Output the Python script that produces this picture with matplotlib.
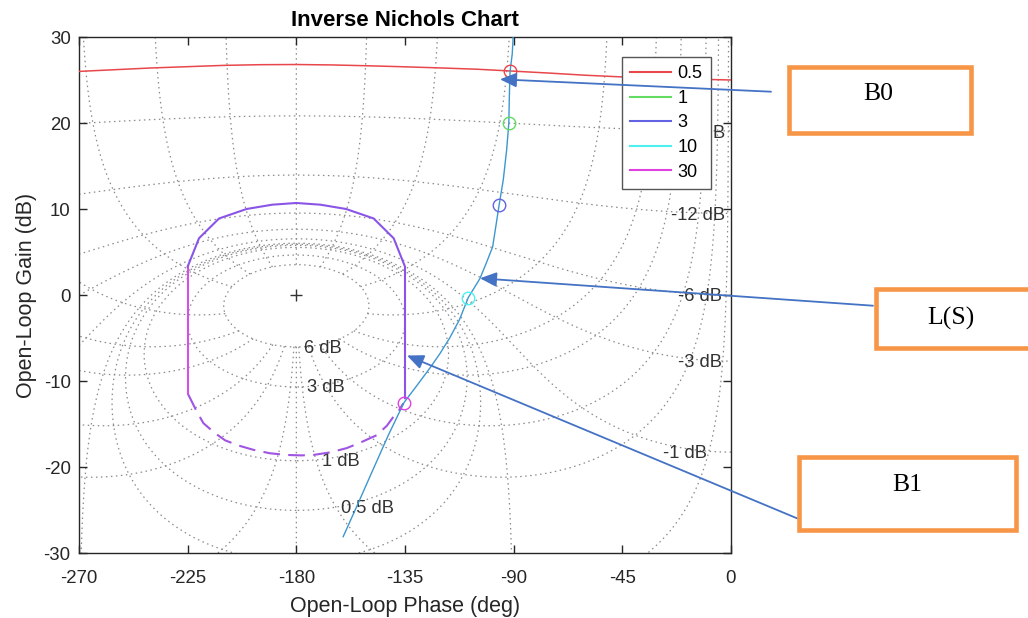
import numpy as np
import matplotlib
matplotlib.use("Agg")
import matplotlib.pyplot as plt
from matplotlib.lines import Line2D
from matplotlib.patches import Rectangle, FancyArrowPatch

plt.rcParams['font.family'] = ['Liberation Sans', 'DejaVu Sans']
plt.rcParams['axes.unicode_minus'] = False

W, H = 1028, 618

# Nichols grid levels
m_levels_db = [6, 3, 1, 0.5, 0.25, 0, -1, -3, -6, -12, -20, -40]
phase_levels = [-1, -5, -10, -20, -30, -50, -90, -120, -150, -180,
                -210, -240, -270, -310, -330, -340, -350, -355, -359, 0]

# bound labels (rad/s) and colours
bound_freqs = ['0.5', '1', '3', '10', '30']
bound_colors = ['#e8474b', '#62dc62', '#6262e2', '#4ff0f0', '#e040e0']

# B0 : bound at 0.5 rad/s
b0_phase = [-270, -255, -240, -225, -210, -195, -180, -165, -150, -137, -120,
            -105, -91.5, -75, -60, -44.5, -30, -15, 0]
b0_gain = [26.0, 26.2, 26.4, 26.55, 26.7, 26.78, 26.8, 26.75, 26.65, 26.55, 26.4,
           26.25, 26.05, 25.8, 25.55, 25.35, 25.2, 25.1, 25.0]

# B1 : solid upper part of the bound
b1_left_phase = [-225, -225]
b1_left_gain = [-11.5, 3.3]
b1_phase = [-225, -220.3, -212, -200.6, -190, -180, -170, -159.4, -148, -139.7,
            -135, -135]
b1_gain = [3.3, 6.6, 8.9, 10.0, 10.5, 10.7, 10.5, 10.0, 8.9, 6.6, 3.3, -12.0]

# B1 : dashed lower part
b1_dash_phase = [-224.7, -221.5, -218.5, -214, -209.5, -204, -197.8, -191, -184,
                 -178, -173, -166, -159.1, -153, -146.7, -142.5, -139.9, -137.5,
                 -135.7]
b1_dash_gain = [-11.6, -13.4, -14.9, -16.0, -16.9, -17.5, -18.0, -18.4, -18.6,
                -18.65, -18.6, -18.3, -17.8, -17.1, -16.3, -15.2, -14.2, -13.4,
                -12.6]

# open-loop L(s)
ls_phase = [-90.2, -90.6, -91.5, -91.8, -92.0, -92.9, -94.3, -96.0, -98.7,
            -101.5, -104.0, -108.8, -112.5, -116.5, -120.5, -124.7, -130.0,
            -135.4, -141.9, -149.5, -155.0, -160.6]
ls_gain = [30.0, 28.0, 26.0, 23.0, 20.0, 16.9, 13.4, 10.5, 5.6,
           3.6, 1.9, -0.3, -2.9, -5.0, -6.8, -8.5, -10.5,
           -12.5, -16.3, -21.1, -24.6, -28.1]

# L(jw) at the bound frequencies
mk_phase = [-91.5, -92.0, -96.0, -108.8, -135.4]
mk_gain = [26.0, 20.0, 10.5, -0.3, -12.5]


def nichols_xy(L):
    ph = np.mod(np.degrees(np.angle(L)), 360) - 360
    g = 20 * np.log10(np.abs(L))
    return ph, g


def plot_grid_curve(ax, ph, g):
    ok = np.isfinite(g)
    ph, g = ph[ok], g[ok]
    brk = np.where(np.abs(np.diff(ph)) > 90)[0] + 1
    for p, q in zip(np.split(ph, brk), np.split(g, brk)):
        ax.plot(p, q, color='#8a8a8a', lw=0.9, ls=(0, (1.2, 2.8)), zorder=1)


fig = plt.figure(figsize=(W / 100, H / 100), dpi=100, facecolor='white')
ax = fig.add_axes([79 / W, 65 / H, 652 / W, 516 / H])

# constant |1/(1+L)| contours
theta = np.linspace(1e-5, 2 * np.pi - 1e-5, 6000)
for mdb in m_levels_db:
    R = 1.0 / 10 ** (mdb / 20)
    L = -1 + R * np.exp(1j * theta)
    plot_grid_curve(ax, *nichols_xy(L))

# constant phase contours, started on the 6 dB circle
rho = np.geomspace(0.5, 1e3, 20000)
for a in phase_levels:
    L = -1 + rho * np.exp(1j * np.radians(a))
    plot_grid_curve(ax, *nichols_xy(L))

ax.plot(-180, 0, '+', color='#333333', ms=9, mew=1.0, zorder=2)

# grid labels
grid_text = dict(fontsize=13.2, color='#333333', va='center', zorder=3)
for lab, x, y in [('6 dB', -177, -6.2), ('3 dB', -175.6, -10.8),
                  ('1 dB', -169.5, -19.4), ('0.5 dB', -161.3, -24.8)]:
    ax.text(x, y, lab, ha='left', **grid_text)
for lab, x, y in [('-1 dB', -10.0, -18.4), ('-3 dB', -3.9, -7.9),
                  ('-6 dB', -3.8, -0.2), ('-12 dB', -2.5, 9.3),
                  ('-20 dB', -2.5, 18.8)]:
    ax.text(x, y, lab, ha='right', **grid_text)

# bounds
ax.plot(b0_phase, b0_gain, color=bound_colors[0], lw=1.1, zorder=4)
ax.plot(b1_left_phase, b1_left_gain, color='#d84ee8', lw=1.5, zorder=4)
ax.plot(b1_phase, b1_gain, color='#8a55e6', lw=1.5, zorder=4)
ax.plot(b1_dash_phase, b1_dash_gain, color='#a055e2', lw=1.5,
        dashes=(8, 4), zorder=4)

# loop shape and frequency markers
ax.plot(ls_phase, ls_gain, color='#3d97cf', lw=1.0, zorder=5)
for p, g, c in zip(mk_phase, mk_gain, bound_colors):
    ax.plot(p, g, 'o', ms=9, mfc='none', mec=c, mew=1.0, zorder=6)

ax.set_xlim(-270, 0)
ax.set_ylim(-30, 30)
ax.set_xticks(np.arange(-270, 1, 45))
ax.set_yticks(np.arange(-30, 31, 10))
ax.tick_params(direction='in', length=6, width=1, top=True, right=True,
               labelsize=13.4, colors='#262626')
ax.tick_params(axis='x', pad=12)
ax.tick_params(axis='y', pad=6)
for s in ax.spines.values():
    s.set_color('#262626')
    s.set_linewidth(1.0)

ax.set_xlabel('Open-Loop Phase (deg)', fontsize=15.5, color='#262626', labelpad=7)
ax.set_ylabel('Open-Loop Gain (dB)', fontsize=15.5, color='#262626', labelpad=5)
ax.set_title('Inverse Nichols Chart', fontsize=16, fontweight='bold', pad=8)

handles = [Line2D([], [], color=c, lw=1.5) for c in bound_colors]
leg = ax.legend(handles, bound_freqs, loc='upper right',
                bbox_to_anchor=(0.969, 0.961), fontsize=13, frameon=True,
                fancybox=False, framealpha=1, edgecolor='#555555',
                handlelength=2.3, handletextpad=0.35, labelspacing=0.42,
                borderpad=0.45, borderaxespad=0)
leg.get_frame().set_linewidth(1.0)
leg.set_zorder(10)


def fp(x, y):
    return (x / W, 1 - y / H)


# callout boxes
boxes = [('B0', 788.5, 66.5, 970.5, 132.5, 878, 94),
         ('L(S)', 875.5, 289, 1032, 348, 951, 318),
         ('B1', 798.5, 457, 1015.5, 529.5, 907, 485)]
for lab, x0, y0, x1, y1, tx, ty in boxes:
    rect = Rectangle(fp(x0, y1), (x1 - x0) / W, (y1 - y0) / H,
                     transform=fig.transFigure, facecolor='white',
                     edgecolor='#f79646', lw=3.3, joinstyle='miter', zorder=20)
    fig.add_artist(rect)
    fig.text(*fp(tx, ty), lab, ha='center', va='center', fontsize=18.5,
             family=['Liberation Serif', 'DejaVu Serif'], color='black', zorder=21)

arrows = [((771, 91.7), (500, 79.3)),
          ((873, 305.7), (480, 278.3)),
          ((797, 518.3), (407, 355.5))]
for tail, head in arrows:
    arr = FancyArrowPatch(fp(*tail), fp(*head), transform=fig.transFigure,
                          arrowstyle='-|>,head_length=0.5,head_width=0.22',
                          mutation_scale=20, color='#4472c4', lw=1.3,
                          shrinkA=0, shrinkB=0, zorder=19)
    fig.add_artist(arr)

fig.savefig('out.png', dpi=100, facecolor='white')
